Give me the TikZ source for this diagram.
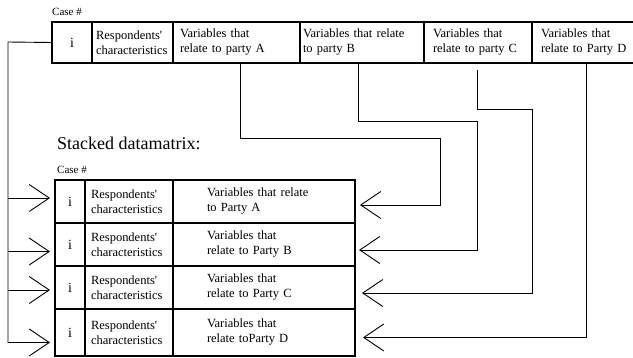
\documentclass[tikz,border=0pt]{standalone}
\usepackage{fontspec}
\setmainfont{Liberation Serif}
\usetikzlibrary{positioning, calc, arrows.meta}

\begin{document}
\begin{tikzpicture}[x=1pt, y=-1pt, >={Straight Barb[length=20pt,width=27pt]},
    cell/.style = {draw, line width=1.5pt, outer sep=0pt, inner ysep=0pt, align=left, font=\fontsize{12.5}{15}\selectfont},
    idcell/.style = {draw, line width=1.5pt, outer sep=0pt, inner sep=0pt, font=\fontsize{14}{16}\selectfont},
    topcell/.style = {cell, minimum height=41pt},
    rowcell/.style = {cell, minimum height=#1},
    caption/.style = {anchor=west, inner sep=0pt, font=\fontsize{11}{13}\selectfont},
    link/.style = {line width=0.9pt}]

    \useasboundingbox (0,0) rectangle (633,357);

    % wide data matrix
    \node[caption] (case1) at (52,12) {Case \#};
    \node[idcell, minimum width=40pt, minimum height=41pt, anchor=north west] (ti) at (52,22) {i};
    \node[topcell, text width=73pt, inner xsep=4pt, right=0pt of ti] (tr) {Respondents\textquotesingle\\characteristics};
    \node[topcell, text width=113pt, inner xsep=7pt, right=0pt of tr] (ta) {Variables that\\relate to party A};
    \node[topcell, text width=118pt, inner xsep=3pt, right=0pt of ta] (tb) {Variables that relate\\to party B};
    \node[topcell, text width=90pt, inner xsep=9pt, right=0pt of tb] (tc) {Variables that\\relate to party C};
    \node[topcell, text width=92pt, inner xsep=9pt, right=0pt of tc] (td) {Variables that\\relate to Party D};

    % stacked data matrix
    \node[anchor=west, inner sep=0pt, font=\fontsize{18}{20}\selectfont] (title) at (57,143) {Stacked datamatrix:};
    \node[caption] (case2) at (57,170) {Case \#};

    \node[idcell, minimum width=30pt, minimum height=43pt, anchor=north west] (si1) at (55,180) {i};
    \node[rowcell=43pt, text width=76pt, inner xsep=6pt, right=0pt of si1] (sr1) {Respondents\textquotesingle\\characteristics};
    \node[rowcell=43pt, text width=114pt, inner xsep=34pt, right=0pt of sr1] (sv1) {Variables that relate\\to Party A};

    \node[idcell, minimum width=30pt, minimum height=43pt, below=0pt of si1] (si2) {i};
    \node[rowcell=43pt, text width=76pt, inner xsep=6pt, right=0pt of si2] (sr2) {Respondents\textquotesingle\\characteristics};
    \node[rowcell=43pt, text width=114pt, inner xsep=34pt, right=0pt of sr2] (sv2) {Variables that\\relate to Party B};

    \node[idcell, minimum width=30pt, minimum height=43pt, below=0pt of si2] (si3) {i};
    \node[rowcell=43pt, text width=76pt, inner xsep=6pt, right=0pt of si3] (sr3) {Respondents\textquotesingle\\characteristics};
    \node[rowcell=43pt, text width=114pt, inner xsep=34pt, right=0pt of sr3] (sv3) {Variables that\\relate to Party C};

    \node[idcell, minimum width=30pt, minimum height=47pt, below=0pt of si3] (si4) {i};
    \node[rowcell=47pt, text width=76pt, inner xsep=6pt, right=0pt of si4] (sr4) {Respondents\textquotesingle\\characteristics};
    \node[rowcell=47pt, text width=114pt, inner xsep=34pt, right=0pt of sr4] (sv4) {Variables that\\relate toParty D};

    % case id copied into every row
    \coordinate (trunk) at (8,42);
    \draw[link, ->, shorten >=5pt] (ti.west) -- (trunk) |- ($(si4.west)+(0,10)$);
    \draw[link, ->, shorten >=5pt] ($(trunk |- si1.west)+(0,-3.5)$) -- ($(si1.west)+(0,-3.5)$);
    \draw[link, ->, shorten >=5pt] ($(trunk |- si2.west)+(0,7)$) -- ($(si2.west)+(0,7)$);
    \draw[link, ->, shorten >=5pt] ($(trunk |- si3.west)+(0,2.5)$) -- ($(si3.west)+(0,2.5)$);

    % party blocks moved under each other
    \coordinate (bendA) at (440,138);
    \coordinate (bendB) at (477,121);
    \coordinate (bendC) at (532,109);
    \draw[link, ->, shorten >=5pt] ($(ta.south)+(3.5,0)$) |- (bendA) |- ($(sv1.east)+(0,3.5)$);
    \draw[link, ->, shorten >=4pt] ($(tb.south)+(-4,0)$) |- (bendB) |- ($(sv2.east)+(0,5.5)$);
    \draw[link, ->, shorten <=7pt, shorten >=7pt] ($(tc.south)+(-1,0)$) |- (bendC) |- ($(sv3.east)+(0,5.5)$);
    \draw[link, ->, shorten >=8pt] ($(td.south)+(-1,0)$) |- ($(sv4.east)+(0,5)$);
\end{tikzpicture}
\end{document}
